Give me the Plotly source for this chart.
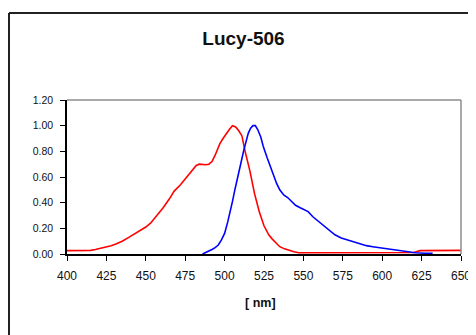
import plotly.graph_objects as go

# Absorption (red)
abs_nm = [400, 405, 410, 415, 418, 420, 422, 425, 428, 431, 435, 440, 445, 450, 453, 457, 461, 465, 468, 472,
          476, 479, 482, 484, 486, 488, 490, 492, 494, 497, 499, 501, 503, 505, 507, 509, 511, 513, 516, 519,
          522, 525, 528, 530, 533, 535, 538, 541, 544, 547, 555, 570, 590, 610, 620, 624, 635, 650]
abs_val = [0.026, 0.026, 0.026, 0.028, 0.035, 0.04, 0.045, 0.055, 0.065, 0.078, 0.10, 0.135, 0.17, 0.21, 0.24,
           0.30, 0.36, 0.43, 0.49, 0.54, 0.60, 0.65, 0.69, 0.70, 0.695, 0.695, 0.70, 0.72, 0.77, 0.86, 0.90, 0.94,
           0.97, 1.00, 0.99, 0.96, 0.92, 0.80, 0.65, 0.47, 0.33, 0.22, 0.15, 0.12, 0.08, 0.057, 0.04, 0.026,
           0.018, 0.01, 0.01, 0.01, 0.01, 0.01, 0.012, 0.026, 0.028, 0.028]

# Emission (blue)
em_nm = [486, 488, 490, 492, 494, 496, 498, 500, 502, 503.5, 505, 506.5, 508, 510, 512, 513.5, 515, 516.5, 518,
         519.5, 521, 523, 524.5, 527, 529, 531, 533, 535, 537.5, 540, 542.5, 545, 548, 551, 553, 556, 558.5, 561,
         564, 567, 570, 574, 578, 582, 586, 590, 594, 598, 603, 607, 611, 616, 621, 627, 632]
em_val = [0.0, 0.01, 0.025, 0.035, 0.05, 0.07, 0.11, 0.16, 0.25, 0.32, 0.41, 0.50, 0.59, 0.69, 0.80, 0.87, 0.94,
          0.98, 1.00, 1.00, 0.97, 0.91, 0.84, 0.75, 0.68, 0.61, 0.55, 0.50, 0.46, 0.44, 0.41, 0.38, 0.36, 0.34,
          0.33, 0.29, 0.265, 0.24, 0.21, 0.18, 0.15, 0.125, 0.11, 0.09, 0.078, 0.065, 0.057, 0.05, 0.044, 0.035,
          0.026, 0.018, 0.01, 0.006, 0.005]

title_text = "Lucy-506"
x_title = "[ nm]"
x_ticks = [400, 425, 450, 475, 500, 525, 550, 575, 600, 625, 650]
y_ticks = [0, 0.2, 0.4, 0.6, 0.8, 1.0, 1.2]

FONT = "Liberation Sans, Arial, sans-serif"
OFF = 8  # page body margin offset

PL, PR, PT, PB = 67 - OFF, 461 - OFF, 100 - OFF, 254 - OFF
PW, PH = PR - PL, PB - PT

fig = go.Figure()
fig.add_trace(go.Scatter(x=abs_nm, y=abs_val, mode="lines", line=dict(color="#FF0000", width=1.6),
                         showlegend=False, hoverinfo="skip"))
fig.add_trace(go.Scatter(x=em_nm, y=em_val, mode="lines", line=dict(color="#0000FF", width=1.6),
                         showlegend=False, hoverinfo="skip"))

fig.update_layout(
    width=476, height=335,
    margin=dict(l=PL, r=476 - PR, t=PT, b=335 - PB),
    paper_bgcolor="white", plot_bgcolor="white",
    font=dict(family=FONT, color="black", size=11),
    title=dict(text="<b>" + title_text + "</b>", x=(243.5 - OFF) / 476, xanchor="center",
               y=1 - (38 - OFF) / 335, yanchor="middle", yref="container",
               font=dict(family=FONT, size=19, color="#111111")),
)
fig.update_xaxes(range=[400, 650], tickvals=x_ticks, ticktext=[str(v) for v in x_ticks],
                 showgrid=False, zeroline=False, showline=True, linecolor="black", linewidth=1.5,
                 ticks="outside", ticklen=5, tickwidth=1.2, tickcolor="black",
                 tickfont=dict(size=12, color="#111111"), ticklabelstandoff=5)
fig.update_yaxes(range=[0, 1.2], tickvals=y_ticks, ticktext=["%.2f" % v for v in y_ticks],
                 showgrid=False, zeroline=False, showline=True, linecolor="black", linewidth=1.5,
                 ticks="outside", ticklen=5, tickwidth=1.2, tickcolor="black",
                 tickfont=dict(size=10.5, color="#111111"), ticklabelstandoff=5)

# gray top/right plot border
fig.add_shape(type="line", xref="paper", yref="paper", x0=0, x1=1, y0=1, y1=1,
              line=dict(color="#8c8c8c", width=1.5))
fig.add_shape(type="line", xref="paper", yref="paper", x0=1, x1=1, y0=0, y1=1,
              line=dict(color="#8c8c8c", width=1.5))

# outer chart frame (left & top visible)
fx0 = (9 - OFF - PL) / PW
fy1 = (PB - (13 - OFF)) / PH
fig.add_shape(type="line", xref="paper", yref="paper", x0=fx0, x1=fx0, y0=-0.7, y1=fy1,
              line=dict(color="#222222", width=2))
fig.add_shape(type="line", xref="paper", yref="paper", x0=fx0, x1=1.2, y0=fy1, y1=fy1,
              line=dict(color="#222222", width=2))

fig.add_annotation(text="<b>" + x_title + "</b>", xref="paper", yref="paper",
                   x=(260 - OFF - PL) / PW, y=(PB - (303 - OFF)) / PH, xanchor="center", yanchor="middle",
                   showarrow=False, font=dict(family=FONT, size=12.5, color="#111111"))

fig.write_html("out.html")
